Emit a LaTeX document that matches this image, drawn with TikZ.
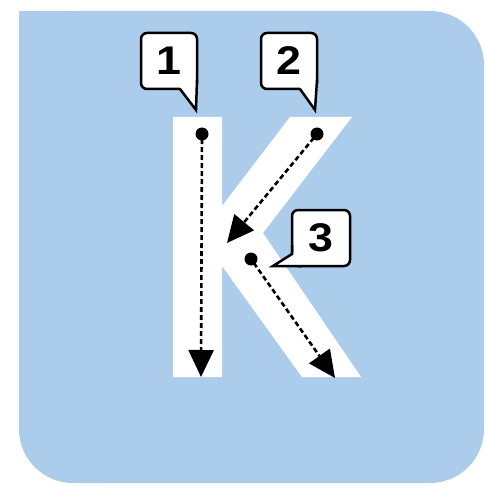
\documentclass[tikz,border=0pt]{standalone}
\usepackage{fontspec}
\newfontfamily\numfont[FakeStretch=1.12]{Liberation Sans Bold}
\usetikzlibrary{arrows.meta}
\definecolor{bgblue}{RGB}{172,204,235}
\begin{document}
\begin{tikzpicture}[x=1pt,y=-1pt,
  dotnode/.style={circle,fill=black,inner sep=0pt,minimum size=13pt},
  trace/.style={line width=2.6pt,dash pattern=on 5pt off 3pt,-{Triangle[length=27pt,width=25pt]},shorten <=-3pt},
  bubble/.style={draw=black,fill=white,line width=2.5pt,rounded corners=6pt},
  tailfill/.style={fill=white},
  tailline/.style={draw=black,line width=2.5pt,line join=miter},
  digit/.style={font=\numfont\fontsize{40}{40}\selectfont,inner sep=0pt},
  letter/.style={fill=white}]
\useasboundingbox (0,0) rectangle (485,486);
% background
\fill[bgblue,rounded corners=54pt] (19,11) rectangle (484,483);
\fill[bgblue] (19,11) rectangle (120,120);
% letter K
\fill[letter] (173,117) -- (222,117) -- (222,206) -- (290,117) -- (352,117)
  -- (263,233) -- (361,377) -- (302,377) -- (222,266) -- (222,377)
  -- (173,377) -- cycle;
% start dots and end points
\node[dotnode] (s1) at (202,134) {};
\node[dotnode] (s2) at (317,134) {};
\node[dotnode] (s3) at (251,259) {};
\coordinate (e1) at (201,377);
\coordinate (e2) at (227,243);
\coordinate (e3) at (335,378);
\draw[trace] (s1.center) -- (e1);
\draw[trace] (s2.center) -- (e2);
\draw[trace] (s3.center) -- (e3);
% callout 1
\draw[bubble] (141,33) rectangle (197,89);
\fill[tailfill] (179,86) -- (196,109) -- (197,80) -- cycle;
\draw[tailline] (180,89) -- (196,110) -- (197,80);
\node[digit] (n1) at (169,61) {1};
% callout 2
\draw[bubble] (261,33) rectangle (317,89);
\fill[tailfill] (299,86) -- (315,109) -- (317,80) -- cycle;
\draw[tailline] (300,89) -- (315,110) -- (317,80);
\node[digit] (n2) at (289,61) {2};
% callout 3
\draw[bubble] (292,210) rectangle (350,266);
\fill[tailfill] (294,252) -- (274,265) -- (302,266) -- cycle;
\draw[tailline] (292,245) -- (292,254) -- (273,266) -- (302,266);
\node[digit] (n3) at (321,238) {3};
\end{tikzpicture}
\end{document}
